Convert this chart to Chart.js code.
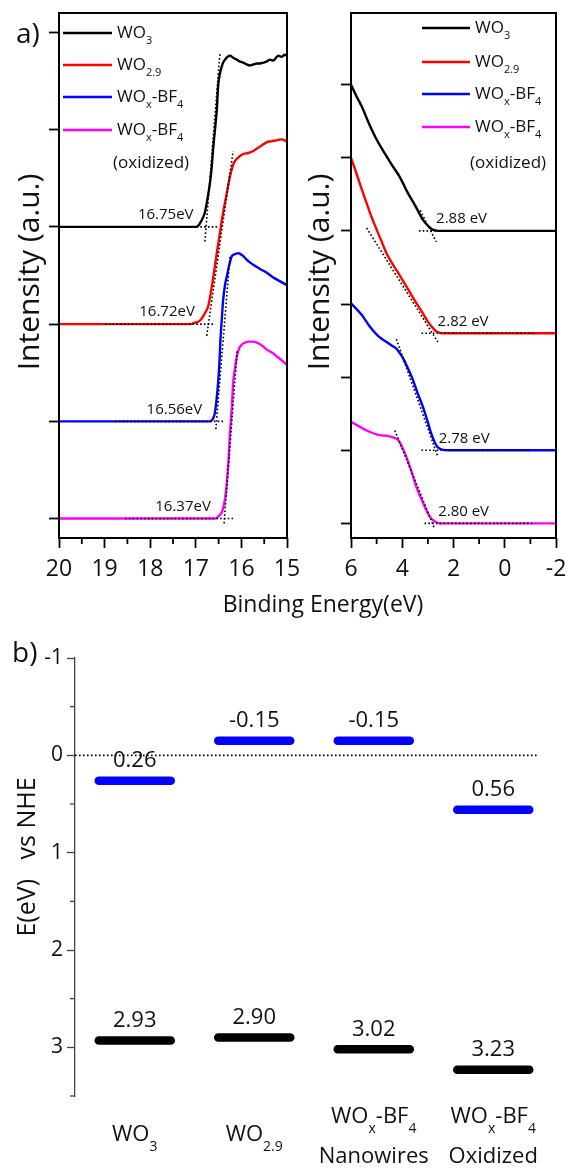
<!DOCTYPE html>
<html><head><meta charset="utf-8">
<script src="https://cdn.jsdelivr.net/npm/chart.js@4.4.1/dist/chart.umd.min.js"></script>
<style>
html,body{margin:0;padding:0;background:#fff;}
body{width:569px;height:1170px;position:relative;overflow:hidden;font-family:'Open Sans',sans-serif;}
canvas{position:absolute;}
#xt{position:absolute;left:0;width:646px;top:588px;text-align:center;font-size:23px;line-height:30px;color:#111;}
</style></head><body>
<canvas id="cL" width="300" height="620" style="left:0;top:0"></canvas>
<canvas id="cR" width="279" height="620" style="left:290px;top:0"></canvas>
<canvas id="cB" width="569" height="550" style="left:0;top:620px"></canvas>
<div id="xt">Binding Energy(eV)</div>
<script>
const FONT = "'Open Sans', sans-serif";

// ---------- Panel a (left): secondary electron cut-off ----------
const eWO3L  = [20, 17.5, 17.0, 16.95, 16.88, 16.80, 16.74, 16.69, 16.65, 16.62, 16.58, 16.54, 16.51, 16.47, 16.43, 16.40, 16.36, 16.30, 16.25, 16.18, 16.10, 16.03, 15.96, 15.88, 15.81, 15.74, 15.66, 15.59, 15.52, 15.45, 15.37, 15.30, 15.24, 15.19, 15.12, 15.05, 15.0];
const iWO3L  = [3.0, 3.0, 3.0, 3.01, 3.06, 3.15, 3.30, 3.45, 3.62, 3.80, 4.0, 4.2, 4.45, 4.58, 4.65, 4.69, 4.72, 4.75, 4.76, 4.74, 4.72, 4.70, 4.69, 4.67, 4.66, 4.67, 4.68, 4.68, 4.69, 4.70, 4.72, 4.71, 4.74, 4.76, 4.75, 4.77, 4.76];
const eWO29L = [20, 17.5, 17.1, 17.05, 16.97, 16.90, 16.84, 16.78, 16.73, 16.69, 16.62, 16.55, 16.47, 16.40, 16.32, 16.25, 16.18, 16.14, 16.10, 16.03, 15.95, 15.85, 15.74, 15.65, 15.55, 15.45, 15.35, 15.23, 15.12, 15.0];
const iWO29L = [2.0, 2.0, 2.0, 2.01, 2.02, 2.04, 2.08, 2.13, 2.18, 2.27, 2.47, 2.70, 2.94, 3.15, 3.35, 3.52, 3.64, 3.68, 3.70, 3.73, 3.75, 3.76, 3.78, 3.81, 3.84, 3.87, 3.88, 3.89, 3.90, 3.88];
const eBF4L  = [20, 17.5, 16.7, 16.65, 16.61, 16.58, 16.55, 16.51, 16.48, 16.46, 16.43, 16.40, 16.36, 16.32, 16.27, 16.21, 16.14, 16.07, 16.02, 15.96, 15.88, 15.80, 15.74, 15.60, 15.45, 15.30, 15.15, 15.0];
const iBF4L  = [1.0, 1.0, 1.0, 1.01, 1.04, 1.09, 1.20, 1.40, 1.62, 1.84, 2.05, 2.25, 2.40, 2.49, 2.60, 2.70, 2.72, 2.73, 2.72, 2.70, 2.66, 2.63, 2.61, 2.57, 2.53, 2.48, 2.44, 2.40];
const eOxL   = [20, 17.5, 16.56, 16.51, 16.45, 16.41, 16.36, 16.32, 16.28, 16.25, 16.21, 16.18, 16.14, 16.10, 16.05, 15.99, 15.92, 15.85, 15.76, 15.66, 15.55, 15.45, 15.34, 15.23, 15.12, 15.0];
const iOxL   = [0.0, 0.0, 0.0, 0.02, 0.05, 0.09, 0.20, 0.37, 0.62, 0.88, 1.15, 1.40, 1.55, 1.67, 1.75, 1.79, 1.81, 1.82, 1.82, 1.81, 1.78, 1.74, 1.71, 1.67, 1.63, 1.58];
// tangent (dotted) guide lines, left
const tanEL  = [[16.80, 16.47], [16.76, 16.18], [16.56, 16.25], [16.38, 16.09]];
const tanIL  = [[2.85, 4.79], [1.88, 3.78], [0.92, 2.70], [-0.05, 1.74]];
const baseEL = [[17.9, 16.52], [18.99, 16.58], [18.77, 16.36], [18.55, 16.14]];
const baseL  = [3, 2, 1, 0];
const cutoffL = [16.75, 16.72, 16.56, 16.37];
const xMinorL = [19.5, 18.5, 17.5, 16.5, 15.5];

// ---------- Panel a (right): valence band edge ----------
const eWO3R  = [6.0, 5.8, 5.58, 5.3, 5.0, 4.7, 4.4, 4.1, 3.8, 3.5, 3.19, 3.0, 2.87, 2.75, 2.6, 2.0, 1.0, 0, -1, -2];
const iWO3R  = [6.0, 5.85, 5.70, 5.47, 5.25, 5.07, 4.90, 4.74, 4.53, 4.35, 4.15, 4.07, 4.03, 4.01, 4.0, 4.0, 4.0, 4.0, 4.0, 4.0];
const eWO29R = [6.0, 5.8, 5.6, 5.39, 5.2, 5.0, 4.8, 4.61, 4.4, 4.2, 3.84, 3.5, 3.19, 3.0, 2.8, 2.65, 2.4, 1.0, 0, -2];
const iWO29R = [5.0, 4.8, 4.59, 4.38, 4.19, 4.02, 3.85, 3.69, 3.56, 3.45, 3.24, 3.04, 2.87, 2.76, 2.67, 2.62, 2.60, 2.60, 2.60, 2.60];
const eBF4R  = [6.0, 5.6, 5.26, 4.9, 4.61, 4.4, 4.23, 4.1, 3.97, 3.78, 3.58, 3.4, 3.19, 3.0, 2.87, 2.72, 2.61, 2.45, 2.2, 1.0, 0, -2];
const iBF4R  = [3.01, 2.86, 2.69, 2.55, 2.48, 2.43, 2.39, 2.33, 2.26, 2.12, 1.96, 1.78, 1.59, 1.38, 1.23, 1.10, 1.04, 1.01, 1.0, 1.0, 1.0, 1.0];
const eOxR   = [6.0, 5.7, 5.39, 4.94, 4.7, 4.49, 4.30, 4.16, 4.0, 3.84, 3.65, 3.45, 3.25, 3.06, 2.9, 2.74, 2.55, 1.0, 0, -2];
const iOxR   = [1.39, 1.33, 1.27, 1.21, 1.20, 1.19, 1.17, 1.14, 1.04, 0.91, 0.72, 0.50, 0.33, 0.18, 0.08, 0.03, 0.0, 0.0, 0.0, 0.0];
const tanER  = [[3.3, 2.67], [5.39, 2.61], [4.23, 2.61], [4.29, 2.74]];
const tanIR  = [[4.28, 3.85], [4.04, 2.48], [2.52, 0.91], [1.27, -0.07]];
const baseER = [[3.35, 2.3], [3.25, -1.21], [3.25, -1.02], [3.13, -1.15]];
const baseR  = [4, 2.6, 1, 0];
const cutoffR = [2.88, 2.82, 2.78, 2.80];
const xMinorR = [5, 3, 1, -1];

const seriesNames  = ['WO_{3}', 'WO_{2.9}', 'WO_{x}-BF_{4}', 'WO_{x}-BF_{4}'];
const seriesColors = ['#000000', '#ff0000', '#0000ff', '#ff00ff'];

// ---------- Panel b: band positions ----------
const samples   = ['WO3', 'WO2.9', 'WOx-BF4 Nanowires', 'WOx-BF4 Oxidized'];
const catLines  = [['WO_{3}'], ['WO_{2.9}'], ['WO_{x}-BF_{4}', 'Nanowires'], ['WO_{x}-BF_{4}', 'Oxidized']];
const cbValues  = [0.26, -0.15, -0.15, 0.56];
const vbValues  = [2.93, 2.90, 3.02, 3.23];
const yMinorB   = [-0.5, 0.5, 1.5, 2.5, 3.5];

// ---------- helpers ----------
const zip = (xs, ys) => xs.map((x, i) => ({x: x, y: ys[i]}));
function drawRich(ctx, str, x, y, size, subSize, subDy, align) {
  const parts = str.split(/(_\{[^}]*\})/).filter(s => s.length);
  const segs = parts.map(p => p.startsWith('_{') ? {t: p.slice(2, -1), s: true} : {t: p, s: false});
  let total = 0;
  segs.forEach(sg => { ctx.font = (sg.s ? subSize : size) + 'px ' + FONT; sg.w = ctx.measureText(sg.t).width; total += sg.w; });
  let cx = align === 'center' ? x - total / 2 : (align === 'right' ? x - total : x);
  ctx.textAlign = 'left'; ctx.textBaseline = 'middle';
  segs.forEach(sg => {
    ctx.font = (sg.s ? subSize : size) + 'px ' + FONT;
    ctx.fillText(sg.t, cx, sg.s ? y + subDy : y);
    cx += sg.w;
  });
}
function curve(xs, ys, color) {
  return {data: zip(xs, ys), borderColor: color, backgroundColor: color, borderWidth: 2.4, pointRadius: 0,
          showLine: true, cubicInterpolationMode: 'monotone', order: 2};
}
function dotted(xs, ys) {
  return {data: zip(xs, ys), borderColor: '#000', borderWidth: 1.6, borderDash: [1.6, 2.2], pointRadius: 0,
          showLine: true, order: 1};
}

function panelPlugin(cfg) {
  return {
    id: 'decor' + cfg.key,
    afterDraw(chart) {
      const ctx = chart.ctx, a = chart.chartArea, xs = chart.scales.x, ys = chart.scales.y;
      ctx.save();
      ctx.strokeStyle = '#000'; ctx.lineWidth = 2;
      ctx.strokeRect(a.left, a.top, a.right - a.left, a.bottom - a.top);
      ctx.lineWidth = 1.8;
      cfg.minor.forEach(v => { const px = xs.getPixelForValue(v); ctx.beginPath(); ctx.moveTo(px, a.bottom); ctx.lineTo(px, a.bottom + 6); ctx.stroke(); });
      ctx.fillStyle = '#111';
      ctx.save(); ctx.translate(30, 272); ctx.rotate(-Math.PI / 2);
      ctx.font = '30px ' + FONT; ctx.textAlign = 'center'; ctx.textBaseline = 'middle';
      ctx.fillText('Intensity (a.u.)', 0, 0); ctx.restore();
      cfg.cutoffs.forEach((c, i) => {
        ctx.font = '15px ' + FONT; ctx.textBaseline = 'middle';
        ctx.textAlign = cfg.key === 'L' ? 'right' : 'left';
        const px = xs.getPixelForValue(cfg.key === 'L' ? c + 0.3 : c - 0.2);
        const py = ys.getPixelForValue(cfg.bases[i]) - 12;
        ctx.fillText(cfg.key === 'L' ? c.toFixed(2) + 'eV' : c.toFixed(2) + ' eV', px, py);
      });
      seriesNames.forEach((n, i) => {
        const ly = cfg.legY[i];
        ctx.strokeStyle = seriesColors[i]; ctx.lineWidth = 2.6;
        ctx.beginPath(); ctx.moveTo(cfg.legX0, ly); ctx.lineTo(cfg.legX1, ly); ctx.stroke();
        drawRich(ctx, n, cfg.legX1 + 5, ly, 17, 11, 8, 'left');
      });
      ctx.font = '17px ' + FONT; ctx.textAlign = 'left'; ctx.textBaseline = 'middle';
      ctx.fillText('(oxidized)', cfg.oxX, 163);
      if (cfg.key === 'L') {
        ctx.font = '28px ' + FONT; ctx.textBaseline = 'alphabetic';
        ctx.fillText('a)', 16, 43);
      }
      ctx.restore();
    }
  };
}

function tickOpts() {
  return {drawOnChartArea: false, drawTicks: true, tickLength: 10, tickWidth: 1.8, tickColor: '#000'};
}

function makeA(id, key, curves, tanE, tanI, baseE, bases, xr, yr, step, leftW, cfg) {
  const ds = [];
  tanE.forEach((t, i) => { ds.push(dotted(t, tanI[i])); ds.push(dotted(baseE[i], [bases[i], bases[i]])); });
  curves.forEach((c, i) => ds.push(curve(c[0], c[1], seriesColors[i])));
  return new Chart(document.getElementById(id), {
    type: 'scatter',
    data: {datasets: ds},
    options: {
      responsive: false, animation: false, devicePixelRatio: 1,
      layout: {autoPadding: false, padding: {left: 0, top: 13, right: 13, bottom: 0}},
      plugins: {legend: {display: false}, tooltip: {enabled: false}},
      scales: {
        x: {type: 'linear', min: xr[0], max: xr[1], reverse: true,
            ticks: {stepSize: step, padding: 8, color: '#111', font: {family: FONT, size: 23}, maxRotation: 0, autoSkip: false},
            grid: tickOpts(), border: {display: false},
            afterFit: s => { s.height = 82; s.paddingLeft = 0; s.paddingRight = 0; }},
        y: {type: 'linear', min: yr[0], max: yr[1],
            ticks: {stepSize: 1, display: false, includeBounds: false},
            grid: tickOpts(), border: {display: false},
            afterFit: s => { s.width = leftW; s.paddingTop = 0; s.paddingBottom = 0; }}
      }
    },
    plugins: [panelPlugin(cfg)]
  });
}

makeA('cL', 'L',
  [[eWO3L, iWO3L], [eWO29L, iWO29L], [eBF4L, iBF4L], [eOxL, iOxL]],
  tanEL, tanIL, baseEL, baseL, [15, 20], [-0.2, 5.2], 1, 59,
  {key: 'L', minor: xMinorL, cutoffs: cutoffL, bases: baseL, legY: [33, 65, 97, 130], legX0: 63, legX1: 112, oxX: 113});

makeA('cR', 'R',
  [[eWO3R, iWO3R], [eWO29R, iWO29R], [eBF4R, iBF4R], [eOxR, iOxR]],
  tanER, tanIR, baseER, baseR, [-2, 6], [-0.2, 6.98], 2, 61,
  {key: 'R', minor: xMinorR, cutoffs: cutoffR, bases: baseR, legY: [28, 62, 94, 127], legX0: 132, legX1: 180, oxX: 180});

// ---------- Panel b ----------
const bPlugin = {
  id: 'bdecor',
  beforeDatasetsDraw(chart) {
    const ctx = chart.ctx, a = chart.chartArea, xs = chart.scales.x, ys = chart.scales.y;
    ctx.save();
    ctx.strokeStyle = '#000'; ctx.lineWidth = 1.6; ctx.setLineDash([1.6, 2.4]);
    const y0 = ys.getPixelForValue(0);
    ctx.beginPath(); ctx.moveTo(a.left, y0); ctx.lineTo(xs.getPixelForValue(3) + 45, y0); ctx.stroke();
    ctx.restore();
    ctx.lineCap = 'round';
  },
  afterDatasetsDraw(chart) {
    const ctx = chart.ctx;
    ctx.lineCap = 'butt';
    ctx.save();
    ctx.fillStyle = '#111'; ctx.font = '22px ' + FONT; ctx.textAlign = 'center'; ctx.textBaseline = 'middle';
    chart.data.datasets.forEach((d, di) => {
      chart.getDatasetMeta(di).data.forEach((pt, i) => {
        ctx.fillText(d.data[i].toFixed(2), pt.x, pt.y - 20);
      });
    });
    ctx.restore();
  },
  afterDraw(chart) {
    const ctx = chart.ctx, a = chart.chartArea, xs = chart.scales.x, ys = chart.scales.y;
    ctx.save();
    ctx.strokeStyle = '#444'; ctx.lineWidth = 1.3;
    yMinorB.forEach(v => { const py = ys.getPixelForValue(v); ctx.beginPath(); ctx.moveTo(a.left - 5, py); ctx.lineTo(a.left, py); ctx.stroke(); });
    ctx.fillStyle = '#111';
    catLines.forEach((lines, i) => {
      const px = xs.getPixelForValue(i);
      if (lines.length === 1) {
        drawRich(ctx, lines[0], px, a.bottom + 39, 22, 14, 12, 'center');
      } else {
        drawRich(ctx, lines[0], px, a.bottom + 21, 22, 14, 12, 'center');
        drawRich(ctx, lines[1], px, a.bottom + 61, 22, 14, 12, 'center');
      }
    });
    ctx.save(); ctx.translate(28, 237); ctx.rotate(-Math.PI / 2);
    ctx.font = '25px ' + FONT; ctx.textAlign = 'center'; ctx.textBaseline = 'middle';
    ctx.fillText('E(eV)   vs NHE', 0, 0); ctx.restore();
    ctx.font = '28px ' + FONT; ctx.textAlign = 'left'; ctx.textBaseline = 'alphabetic';
    ctx.fillText('b)', 12, 42);
    ctx.restore();
  }
};

new Chart(document.getElementById('cB'), {
  type: 'line',
  data: {
    labels: samples,
    datasets: [
      {label: 'CB', data: cbValues, showLine: false, pointStyle: 'line', pointRadius: 36, pointHoverRadius: 36,
       pointBorderWidth: 8.5, pointHoverBorderWidth: 8.5, pointBorderColor: '#0000ff', pointBackgroundColor: '#0000ff'},
      {label: 'VB', data: vbValues, showLine: false, pointStyle: 'line', pointRadius: 36, pointHoverRadius: 36,
       pointBorderWidth: 8.5, pointHoverBorderWidth: 8.5, pointBorderColor: '#000000', pointBackgroundColor: '#000000'}
    ]
  },
  options: {
    responsive: false, animation: false, devicePixelRatio: 1,
    layout: {autoPadding: false, padding: {left: 0, top: 38, right: 16, bottom: 74}},
    plugins: {legend: {display: false}, tooltip: {enabled: false}},
    scales: {
      x: {type: 'category', offset: true, display: false},
      y: {type: 'linear', min: -1, max: 3.5, reverse: true,
          ticks: {stepSize: 1, includeBounds: false, padding: 4, color: '#111', font: {family: FONT, size: 21}},
          grid: {drawOnChartArea: false, drawTicks: true, tickLength: 8, tickWidth: 1.3, tickColor: '#444'},
          border: {display: true, color: '#444', width: 1.3},
          afterFit: s => { s.width = 75; s.paddingTop = 0; s.paddingBottom = 0; }}
    }
  },
  plugins: [bPlugin]
});
</script>
</body></html>
